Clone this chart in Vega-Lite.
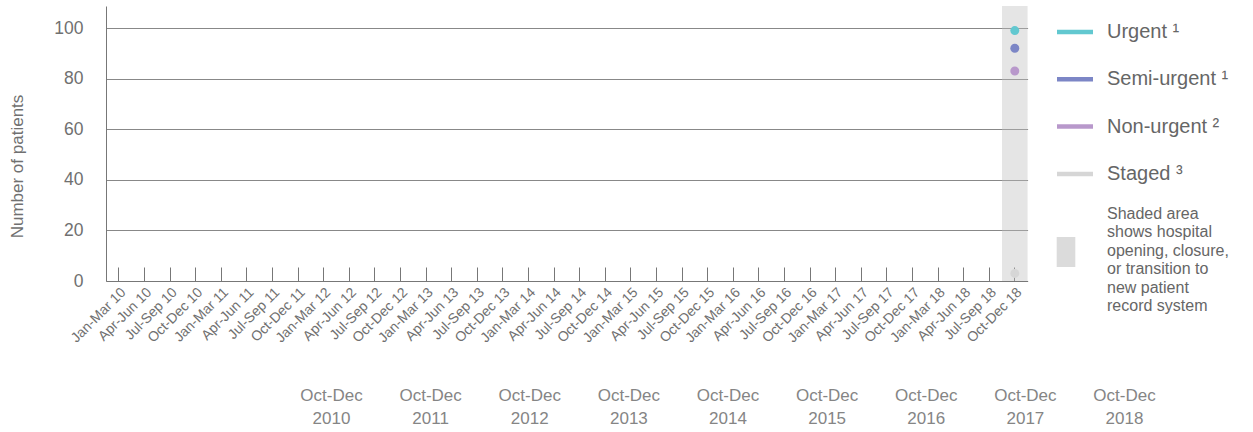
{
  "$schema": "https://vega.github.io/schema/vega-lite/v6.json",
  "width": 921.6,
  "height": 275,
  "autosize": {"type": "none"},
  "padding": {"left": 106, "top": 6, "right": 225.4, "bottom": 151},
  "background": "white",
  "config": {
    "font": "Liberation Sans",
    "view": {"stroke": null},
    "axis": {"labelFont": "Liberation Sans", "titleFont": "Liberation Sans"}
  },
  "datasets": {
    "points": [
      {"quarter": "Oct-Dec 18", "series": "Urgent", "value": 99},
      {"quarter": "Oct-Dec 18", "series": "Semi-urgent", "value": 92},
      {"quarter": "Oct-Dec 18", "series": "Non-urgent", "value": 83},
      {"quarter": "Oct-Dec 18", "series": "Staged", "value": 3}
    ],
    "shade": [
      {"quarter": "Oct-Dec 18", "note": "Shaded area|shows hospital|opening, closure,|or transition to|new patient|record system"}
    ],
    "years": [
      {"label": "Oct-Dec 2010"}, {"label": "Oct-Dec 2011"}, {"label": "Oct-Dec 2012"},
      {"label": "Oct-Dec 2013"}, {"label": "Oct-Dec 2014"}, {"label": "Oct-Dec 2015"},
      {"label": "Oct-Dec 2016"}, {"label": "Oct-Dec 2017"}, {"label": "Oct-Dec 2018"}
    ]
  },
  "layer": [
    {
      "layer": [
        {
          "data": {"name": "shade"},
          "mark": {"type": "bar", "color": "#bdbdbd", "opacity": 0.4},
          "encoding": {
            "x": {
              "field": "quarter", "type": "ordinal", "sort": null,
              "scale": {
                "domain": ["Jan-Mar 10","Apr-Jun 10","Jul-Sep 10","Oct-Dec 10","Jan-Mar 11","Apr-Jun 11","Jul-Sep 11","Oct-Dec 11","Jan-Mar 12","Apr-Jun 12","Jul-Sep 12","Oct-Dec 12","Jan-Mar 13","Apr-Jun 13","Jul-Sep 13","Oct-Dec 13","Jan-Mar 14","Apr-Jun 14","Jul-Sep 14","Oct-Dec 14","Jan-Mar 15","Apr-Jun 15","Jul-Sep 15","Oct-Dec 15","Jan-Mar 16","Apr-Jun 16","Jul-Sep 16","Oct-Dec 16","Jan-Mar 17","Apr-Jun 17","Jul-Sep 17","Oct-Dec 17","Jan-Mar 18","Apr-Jun 18","Jul-Sep 18","Oct-Dec 18"],
                "paddingInner": 0, "paddingOuter": 0
              },
              "axis": {
                "title": null,
                "orient": "bottom",
                "labelAngle": -45,
                "labelFontSize": 14,
                "labelColor": "#707070",
                "labelPadding": 18,
                "tickSize": -14,
                "tickColor": "#777777",
                "domainColor": "#777777",
                "grid": false,
                "labelOverlap": false
              }
            },
            "fill": {
              "field": "note", "type": "nominal",
              "scale": {"range": ["#bdbdbd"]},
              "legend": {
                "orient": "none",
                "legendX": 945,
                "legendY": 231,
                "title": null,
                "padding": 0,
                "symbolType": "M-0.62,-1H0.62V1H-0.62Z",
                "symbolSize": 900,
                "symbolOpacity": 0.55,
                "symbolStrokeWidth": 0,
                "labelFontSize": 16,
                "labelColor": "#666666",
                "labelOffset": 26,
                "labelLimit": 400,
                "labelExpr": "split(datum.label, '|')",
                "encode": {"labels": {"update": {"lineHeight": {"value": 18.4}, "dy": {"value": -38}}}}
              }
            }
          }
        },
        {
          "data": {"name": "points"},
          "mark": {"type": "point", "filled": true, "size": 80, "opacity": 1},
          "encoding": {
            "x": {"field": "quarter", "type": "ordinal", "sort": null},
            "y": {
              "field": "value", "type": "quantitative",
              "scale": {"domain": [0, 108.7], "nice": false},
              "axis": {
                "values": [0, 20, 40, 60, 80, 100],
                "grid": true,
                "gridColor": "#888888",
                "ticks": false,
                "tickSize": 0,
                "domainColor": "#777777",
                "labelFontSize": 17.5,
                "labelColor": "#707070",
                "labelPadding": 23,
                "title": "Number of patients",
                "titleFontSize": 17,
                "titleFontWeight": "normal",
                "titleColor": "#707070",
                "titleAngle": -90,
                "titleX": -89,
                "titleY": 160,
                "titleAlign": "center",
                "titleBaseline": "middle"
              }
            },
            "color": {
              "field": "series", "type": "nominal",
              "scale": {
                "domain": ["Urgent", "Semi-urgent", "Non-urgent", "Staged"],
                "range": ["#62c8d0", "#7c86c6", "#b898cb", "#d6d6d6"]
              },
              "legend": {
                "orient": "none",
                "legendX": 951,
                "legendY": 8,
                "title": null,
                "padding": 0,
                "symbolType": "M-1,-0.125H1V0.125H-1Z",
                "symbolSize": 1296,
                "symbolStrokeWidth": 0,
                "symbolOpacity": 1,
                "labelFontSize": 20,
                "labelColor": "#666666",
                "labelOffset": 14,
                "rowPadding": 19.3,
                "labelLimit": 400,
                "labelExpr": "datum.label == 'Urgent' ? 'Urgent ¹' : datum.label == 'Semi-urgent' ? 'Semi-urgent ¹' : datum.label == 'Non-urgent' ? 'Non-urgent ²' : 'Staged ³'"
              }
            }
          }
        }
      ]
    },
    {
      "data": {"name": "years"},
      "mark": {"type": "point", "opacity": 0},
      "encoding": {
        "x": {
          "field": "label", "type": "ordinal", "sort": null,
          "scale": {"type": "point", "range": [225, 1018], "padding": 0},
          "axis": {
            "orient": "bottom",
            "title": null,
            "domain": false,
            "ticks": false,
            "grid": false,
            "labelAngle": 0,
            "labelAlign": "center",
            "labelBaseline": "top",
            "labelFontSize": 17,
            "labelColor": "#858585",
            "labelLineHeight": 23,
            "labelPadding": 106,
            "labelOverlap": false,
            "labelBound": false,
            "labelFlush": false,
            "labelExpr": "split(datum.label, ' ')"
          }
        }
      }
    }
  ],
  "resolve": {"scale": {"x": "independent"}, "axis": {"x": "independent"}}
}
